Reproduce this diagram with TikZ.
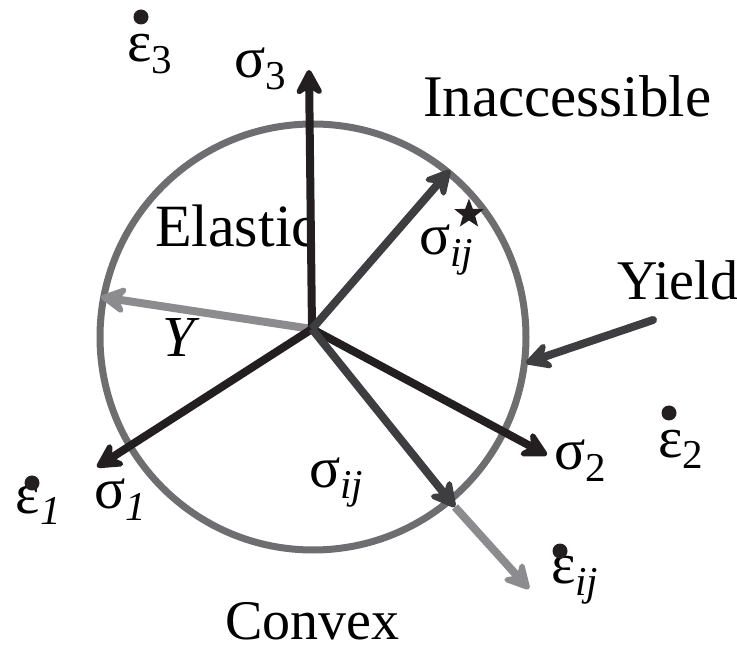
\documentclass[tikz,border=0pt]{standalone}
\usepackage{fontspec}
\setmainfont{Liberation Serif}
\usetikzlibrary{arrows.meta,shapes.geometric}
\definecolor{ink}{HTML}{231F20}
\definecolor{dgray}{HTML}{3E3E40}
\definecolor{lgray}{HTML}{8C8C8E}
\definecolor{cgray}{HTML}{6E6E70}
\newcommand{\lowsub}[1]{\raisebox{-12pt}{\fontsize{41}{41}\selectfont #1}}
\tikzset{
  arr/.style={line width=8pt,-{Stealth[length=32pt,width=34pt,inset=11pt,round]}},
  lbl/.style={anchor=base west,inner sep=0pt,outer sep=0pt,font=\fontsize{58}{60}\selectfont},
  dotn/.style={circle,fill=ink,minimum size=15pt,inner sep=0pt},
}
\begin{document}
\begin{tikzpicture}[x=1pt,y=-1pt]
\useasboundingbox (0,0) rectangle (737,652);
% yield surface
\draw[cgray,line width=7pt] (313,337) circle[radius=213];
\coordinate (O) at (312,329);
\coordinate (t3) at (309,70);
\coordinate (t1) at (97,467);
\coordinate (t2) at (547,455);
\coordinate (tu) at (450,170);
\coordinate (tl) at (455,507);
\coordinate (te) at (529,589);
\coordinate (tY) at (101,297);
\coordinate (yS) at (653,320);
\coordinate (yE) at (526,363);
% Elastic label, clipped by the sigma_3 axis
\begin{scope}
\clip (0,0) rectangle (306,652);
\node[lbl,font=\fontsize{60}{60}\selectfont] (elastic) at (155,247) {Elastic};
\end{scope}
% arrows
\draw[arr,lgray] (O) -- (tY);
\draw[arr,ink] (O) -- (t3);
\draw[arr,ink] (O) -- (t1);
\draw[arr,ink] (O) -- (t2);
\draw[arr,dgray] (O) -- (tu);
\draw[arr,dgray] (O) -- (tl);
\draw[arr,lgray] (tl) -- (te);
\draw[arr,dgray,line cap=round] (yS) -- (yE);
% labels
\node[lbl,font=\fontsize{59}{60}\selectfont] (inacc) at (423,117) {Inaccessible};
\node[lbl,font=\fontsize{56}{60}\selectfont] (convex) at (225,639) {Convex};
\node[lbl,font=\fontsize{56}{60}\selectfont] (yield) at (617,300) {Yield};
\node[lbl] (Y) at (162,357) {\itshape Y};
\node[lbl] (s3) at (234,78) {σ\lowsub{3}};
\node[lbl] (s1) at (94,508) {σ\lowsub{\itshape 1}};
\node[lbl] (s2) at (554,470) {σ\lowsub{2}};
\node[lbl] (su) at (419,255) {σ\lowsub{\itshape ij}};
\node[lbl] (sl) at (309,487) {σ\lowsub{\itshape ij}};
\node[star,star points=5,star point ratio=2.4,fill=ink,minimum size=31pt,inner sep=0pt] (star) at (469,214) {};
% strain rates
\node[lbl] (e3) at (127,62) {ε\lowsub{3}};
\node[dotn] (d3) at (141,17) {};
\node[lbl] (e2) at (658,457) {ε\lowsub{2}};
\node[dotn] (d2) at (669,413) {};
\node[lbl] (e1) at (16,513) {ε\lowsub{\itshape 1}};
\node[dotn] (d1) at (32,483) {};
\node[lbl] (eij) at (551,583) {ε\lowsub{\itshape ij}};
\node[dotn] (dij) at (560,551) {};
\end{tikzpicture}
\end{document}
